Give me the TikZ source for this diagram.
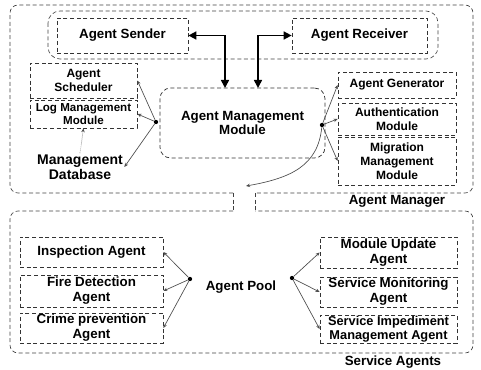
\documentclass[tikz,border=0pt]{standalone}
\usepackage{fontspec}
\setmainfont{Liberation Sans}
\usetikzlibrary{arrows.meta}

\begin{document}
\begin{tikzpicture}[x=0.75pt, y=-0.75pt,
    frame/.style={draw=black!75, densely dashed, line width=0.5pt, rounded corners=6pt},
    modbox/.style={draw=black!80, densely dashed, line width=0.55pt, align=center, inner sep=1pt,
      font=\fontsize{9}{10.5}\selectfont\bfseries},
    agbox/.style={modbox, font=\fontsize{10}{11.2}\selectfont\bfseries},
    lbl/.style={align=center, inner sep=1pt, font=\fontsize{10}{11.2}\selectfont\bfseries},
    hub/.style={circle, fill=black, inner sep=0pt, minimum size=3.2pt},
    link/.style={draw=black!70, line width=0.5pt, -{Stealth[length=3pt, width=2.6pt]}},
    bigarrow/.style={draw=black, line width=1.2pt, {Triangle[length=6pt, width=6pt]}-{Triangle[length=6pt, width=6pt]}}]
    \useasboundingbox (0,0) rectangle (481,370);
    \draw[frame] (233,193) -- (10,193) -- (10,5) -- (473,5) -- (473,193) -- (255,193);
    \draw[frame] (233,211) -- (10,211) -- (10,353) -- (473,353) -- (473,211) -- (255,211);
    \draw[draw=black!75, densely dashed, line width=0.5pt] (233,193) -- (233,211);
    \draw[draw=black!75, densely dashed, line width=0.5pt] (255,193) -- (255,211);
    \draw[frame, rounded corners=9pt] (48,11) rectangle (438,59);
    \node[agbox, minimum width=98.25pt, minimum height=26.25pt] (send) at (122.5,35.5) {Agent Sender};
    \node[agbox, minimum width=101.25pt, minimum height=26.25pt] (recv) at (359.5,35.5) {Agent Receiver};
    \node[agbox, rounded corners=8pt, minimum width=123.75pt, minimum height=52.5pt] (amm) at (242.5,123) {Agent Management\\Module};
    \node[modbox, minimum width=80.25pt, minimum height=26.25pt] (sched) at (83.5,80.5) {Agent\\Scheduler};
    \node[modbox, minimum width=80.25pt, minimum height=21pt, font=\fontsize{8.7}{10}\selectfont\bfseries] (log) at (83.5,114) {Log Management\\Module};
    \node[lbl, font=\fontsize{10.5}{11}\selectfont\bfseries] (db) at (80,167) {Management\\Database};
    \node[modbox, minimum width=88.5pt, minimum height=19.5pt] (gen) at (397,85) {Agent Generator};
    \node[modbox, minimum width=88.5pt, minimum height=24pt] (auth) at (397,119) {Authentication\\Module};
    \node[modbox, minimum width=88.5pt, minimum height=36pt] (mig) at (397,161) {Migration\\Management\\Module};
    \node[lbl] (mgrlbl) at (397,201) {Agent Manager};
    \node[agbox, minimum width=107.25pt, minimum height=22.5pt] (insp) at (91.5,252) {Inspection Agent};
    \node[agbox, minimum width=107.25pt, minimum height=24pt] (fire) at (91.5,291) {Fire Detection\\Agent};
    \node[agbox, minimum width=107.25pt, minimum height=22.5pt] (crime) at (91.5,328) {Crime prevention\\Agent};
    \node[agbox, minimum width=102.75pt, minimum height=23.25pt] (upd) at (388.5,252.5) {Module Update\\Agent};
    \node[agbox, minimum width=102.75pt, minimum height=22.5pt] (mon) at (388.5,292) {Service Monitoring\\Agent};
    \node[agbox, minimum width=102.75pt, minimum height=21pt, inner sep=0pt,
      font=\fontsize{9.6}{10.4}\selectfont\bfseries] (imp) at (388.5,329) {Service Impediment\\Management Agent};
    \node[lbl] (pool) at (241,287) {Agent Pool};
    \node[lbl] (svclbl) at (393,362) {Service Agents};
    \node[hub] (lhub) at (156,122) {};
    \node[hub] (rhub) at (322,125) {};
    \node[hub] (plhub) at (190,279) {};
    \node[hub] (prhub) at (292,278) {};
    \coordinate (amml) at (225,88);
    \coordinate (ammr) at (258,88);
    \coordinate (pipe) at (246,186);
    \draw[bigarrow] (send.east) -| (amml);
    \draw[bigarrow] (recv.west) -| (ammr);
    \draw[link] (lhub) -- (sched.east);
    \draw[link] (lhub) -- (log.east);
    \draw[link] (lhub) -- (db.east);
    \draw[link, densely dotted] (db.north) -- (log.south);
    \draw[link] (rhub) -- (gen.west);
    \draw[link] (rhub) -- (auth.west);
    \draw[link] (rhub) -- (mig.west);
    \draw[link] (rhub) .. controls (318,165) and (292,178) .. (pipe);
    \draw[link] (plhub) -- (insp.east);
    \draw[link] (plhub) -- (fire.east);
    \draw[link] (plhub) -- (crime.east);
    \draw[link] (prhub) -- (upd.west);
    \draw[link] (prhub) -- (mon.west);
    \draw[link] (prhub) -- (imp.west);
\end{tikzpicture}
\end{document}
